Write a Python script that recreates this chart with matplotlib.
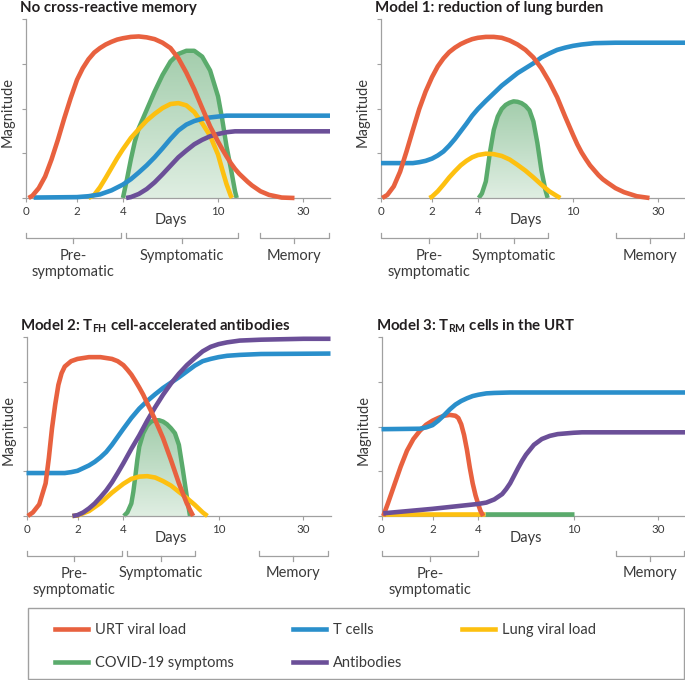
import matplotlib.pyplot as plt
import numpy as np
from matplotlib.colors import LinearSegmentedColormap
from matplotlib.transforms import blended_transform_factory
from matplotlib.patches import Rectangle
from matplotlib.lines import Line2D
from matplotlib.font_manager import FontProperties

plt.rcParams['font.family'] = ['Lato', 'DejaVu Sans']
plt.rcParams['mathtext.fontset'] = 'custom'
plt.rcParams['mathtext.rm'] = 'Lato'
plt.rcParams['mathtext.bf'] = 'Lato:bold'

URT = '#e8613f'
TCELL = '#2a8fcb'
LUNG = '#fdc010'
SYMPT = '#5aab6c'
AB = '#6b4f98'
GREY = '#a0a0a0'
TEXT = '#3a3a3a'

# day axis is stretched early on and squashed later
day_breaks = [0, 2, 4, 10, 30, 40]
pos_breaks = [0, 2, 3.8, 7.53, 10.86, 11.92]
day_ticks = [0, 2, 4, 10, 30]

# --- No cross-reactive memory
a_urt_d = [0.1, 0.25, 0.5, 0.75, 1, 1.25, 1.5, 1.75, 2, 2.25, 2.5, 2.75, 3, 3.25, 3.5, 3.75, 4, 4.5, 5, 5.5,
           6, 6.5, 7, 7.5, 8, 8.5, 9, 9.5, 10, 11, 12, 13, 14, 15, 16, 17, 18, 20, 22, 25, 28]
a_urt_v = [0, 0.05, 0.22, 0.48, 0.86, 1.30, 1.78, 2.23, 2.64, 2.90, 3.10, 3.25, 3.35, 3.43, 3.49, 3.54, 3.57, 3.60, 3.61, 3.59,
           3.55, 3.47, 3.35, 3.12, 2.80, 2.43, 2.01, 1.60, 1.26, 1.09, 0.93, 0.78, 0.65, 0.54, 0.45, 0.36, 0.28, 0.15, 0.07, 0.01, 0]
a_tc_d = [0.3, 2, 2.5, 3, 3.5, 4, 4.5, 5, 5.5, 6, 6.5, 7, 7.5, 8, 8.5, 9, 9.5, 10, 12, 15, 40]
a_tc_v = [0.01, 0.02, 0.04, 0.08, 0.17, 0.30, 0.42, 0.57, 0.73, 0.91, 1.11, 1.32, 1.51, 1.64, 1.72, 1.77, 1.80, 1.82, 1.84, 1.84, 1.84]
a_lung_d = [2.5, 2.75, 3, 3.25, 3.5, 3.75, 4, 4.5, 5, 5.5, 6, 6.5, 7, 7.5, 8, 8.5, 9, 9.5, 10, 11, 12, 13, 13.3]
a_lung_v = [0, 0.07, 0.24, 0.45, 0.67, 0.89, 1.09, 1.34, 1.54, 1.73, 1.88, 2.01, 2.10, 2.12, 2.07, 1.92, 1.67, 1.39, 0.97, 0.63, 0.31, 0.05, 0]
a_sym_d = [4.0, 4.25, 4.5, 4.75, 5, 5.5, 6, 6.5, 7, 7.5, 8, 8.5, 9, 9.5, 10, 11, 12, 13, 14, 14.4]
a_sym_v = [0, 0.41, 0.86, 1.26, 1.56, 1.97, 2.38, 2.75, 3.05, 3.22, 3.29, 3.29, 3.16, 2.85, 2.27, 1.75, 1.15, 0.67, 0.15, 0]
a_ab_d = [4.2, 4.5, 5, 5.5, 6, 6.5, 7, 7.5, 8, 8.5, 9, 9.5, 10, 11, 12, 14, 40]
a_ab_v = [0, 0.02, 0.09, 0.20, 0.35, 0.53, 0.72, 0.91, 1.06, 1.20, 1.30, 1.38, 1.43, 1.45, 1.47, 1.49, 1.49]

# --- Model 1
b_urt_d = [0.05, 0.25, 0.5, 0.75, 1, 1.25, 1.5, 1.75, 2, 2.25, 2.5, 2.75, 3, 3.25, 3.5, 3.75, 4, 4.5, 5, 5.5,
           6, 6.5, 7, 7.5, 8, 8.5, 9, 9.5, 10, 11, 12, 13, 14, 15, 16, 17, 18, 20, 22, 25, 28]
b_urt_v = [0, 0.07, 0.26, 0.59, 1.04, 1.52, 1.99, 2.38, 2.70, 2.94, 3.12, 3.26, 3.36, 3.44, 3.50, 3.55, 3.58, 3.60, 3.60, 3.58,
           3.52, 3.43, 3.31, 3.14, 2.90, 2.60, 2.25, 1.82, 1.41, 1.20, 1.02, 0.87, 0.73, 0.62, 0.51, 0.42, 0.35, 0.22, 0.13, 0.04, 0]
b_tc_d = [0, 1.25, 1.5, 1.75, 2, 2.25, 2.5, 2.75, 3, 3.25, 3.5, 3.75, 4, 4.5, 5, 5.5, 6, 6.5, 7, 7.5,
          8, 8.5, 9, 9.5, 10, 12, 15, 20, 40]
b_tc_v = [0.78, 0.78, 0.80, 0.83, 0.88, 0.95, 1.04, 1.17, 1.32, 1.49, 1.66, 1.84, 1.99, 2.17, 2.34, 2.51, 2.65, 2.79, 2.90, 3.01,
          3.14, 3.23, 3.31, 3.36, 3.40, 3.43, 3.46, 3.47, 3.47]
b_lung_d = [1.9, 2, 2.25, 2.5, 2.75, 3, 3.25, 3.5, 3.75, 4, 4.5, 5, 5.5, 6, 6.5, 7, 7.5, 8, 8.5, 9, 9.2]
b_lung_v = [0, 0.03, 0.15, 0.30, 0.46, 0.60, 0.73, 0.83, 0.91, 0.96, 0.99, 0.98, 0.94, 0.86, 0.74, 0.61, 0.46, 0.30, 0.15, 0.04, 0]
b_sym_d = [4.05, 4.25, 4.5, 4.75, 5, 5.25, 5.5, 5.75, 6, 6.25, 6.5, 6.75, 7, 7.25, 7.5, 7.75, 8, 8.25, 8.4]
b_sym_v = [0, 0.10, 0.37, 1.00, 1.52, 1.82, 1.99, 2.08, 2.13, 2.16, 2.15, 2.12, 2.06, 1.96, 1.71, 1.23, 0.63, 0.19, 0]

# --- Model 2
c_urt_d = [0.05, 0.25, 0.5, 0.75, 0.875, 1, 1.125, 1.25, 1.375, 1.5, 1.75, 2, 2.5, 3, 3.5, 3.75, 4, 4.25, 4.5, 4.75,
           5, 5.25, 5.5, 5.75, 6, 6.5, 7, 7.5, 8, 8.25, 8.4]
c_urt_v = [0, 0.08, 0.26, 0.73, 1.29, 1.96, 2.49, 2.93, 3.19, 3.34, 3.46, 3.51, 3.55, 3.55, 3.51, 3.46, 3.37, 3.27, 3.16, 3.02,
           2.87, 2.71, 2.52, 2.34, 2.15, 1.74, 1.25, 0.73, 0.28, 0.10, 0]
c_tc_d = [0, 1.5, 1.75, 2, 2.25, 2.5, 2.75, 3, 3.25, 3.5, 3.75, 4, 4.5, 5, 5.5, 6, 6.5, 7, 7.5, 8,
          8.5, 9, 9.5, 10, 12, 15, 20, 40]
c_tc_v = [0.96, 0.96, 0.98, 1.01, 1.07, 1.13, 1.21, 1.31, 1.43, 1.59, 1.77, 1.95, 2.19, 2.40, 2.57, 2.72, 2.86, 2.98, 3.10, 3.23,
          3.36, 3.46, 3.51, 3.55, 3.58, 3.60, 3.62, 3.63]
c_lung_d = [1.8, 2, 2.5, 3, 3.5, 4, 4.5, 5, 5.5, 6, 6.5, 7, 7.5, 8, 8.5, 9, 9.3]
c_lung_v = [0, 0.01, 0.11, 0.29, 0.52, 0.72, 0.83, 0.88, 0.89, 0.86, 0.78, 0.68, 0.54, 0.40, 0.25, 0.08, 0]
c_sym_d = [4.03, 4.25, 4.5, 4.625, 4.75, 4.875, 5, 5.25, 5.5, 5.75, 6, 6.25, 6.5, 6.75, 7, 7.25, 7.5, 7.75, 8, 8.2]
c_sym_v = [0, 0.08, 0.28, 0.54, 0.88, 1.25, 1.55, 1.85, 2.02, 2.11, 2.14, 2.14, 2.11, 2.05, 1.96, 1.85, 1.59, 1.03, 0.43, 0]
c_ab_d = [1.8, 2, 2.25, 2.5, 2.75, 3, 3.25, 3.5, 3.75, 4, 4.5, 5, 5.5, 6, 6.5, 7, 7.5, 8, 8.5, 9,
          9.5, 10, 12, 15, 20, 30, 40]
c_ab_v = [0, 0.02, 0.08, 0.17, 0.28, 0.42, 0.57, 0.75, 0.96, 1.18, 1.50, 1.80, 2.13, 2.43, 2.71, 2.96, 3.18, 3.37, 3.53, 3.68,
          3.78, 3.84, 3.88, 3.92, 3.94, 3.96, 3.96]

# --- Model 3
d_urt_d = [0.07, 0.25, 0.5, 0.75, 1, 1.25, 1.5, 1.75, 2, 2.25, 2.5, 2.75, 3, 3.125, 3.25, 3.375, 3.5, 3.625, 3.75, 3.875,
           4, 4.125, 4.3]
d_urt_v = [0, 0.28, 0.69, 1.10, 1.46, 1.72, 1.90, 2.04, 2.13, 2.19, 2.24, 2.26, 2.24, 2.19, 2.05, 1.81, 1.48, 1.08, 0.73, 0.46,
           0.25, 0.12, 0]
d_tc_d = [0, 1.5, 1.75, 2, 2.25, 2.5, 2.75, 3, 3.25, 3.5, 3.75, 4, 4.5, 5, 6, 40]
d_tc_v = [1.94, 1.95, 1.98, 2.03, 2.13, 2.25, 2.38, 2.49, 2.57, 2.63, 2.68, 2.71, 2.74, 2.75, 2.76, 2.76]
d_lung_d = [0, 4.4]
d_lung_v = [0.045, 0.045]
d_sym_d = [4.4, 10.05]
d_sym_v = [0.045, 0.045]
d_ab_d = [0.07, 2, 4, 4.5, 5, 5.5, 5.75, 6, 6.25, 6.5, 6.75, 7, 7.5, 8, 8.5, 9, 10, 12, 40]
d_ab_v = [0.06, 0.16, 0.27, 0.30, 0.37, 0.49, 0.60, 0.73, 0.90, 1.07, 1.23, 1.37, 1.59, 1.72, 1.79, 1.83, 1.86, 1.87, 1.87]

# brackets under each panel: (label, first day, last day)
a_phases = [('Pre-\nsymptomatic', 0, 3.9), ('Symptomatic', 4.2, 14.6), ('Memory', 19.9, 39.5)]
b_phases = [('Pre-\nsymptomatic', 0, 3.95), ('Symptomatic', 4.16, 8.4), ('Memory', 20, 39.5)]
c_phases = [('Pre-\nsymptomatic', 0, 3.95), ('Symptomatic', 4.2, 8.5), ('Memory', 19.5, 39)]
d_phases = [('Pre-\nsymptomatic', 0, 4.0), ('Memory', 20, 39.5)]

legend_names = ['URT viral load', 'COVID-19 symptoms', 'T cells', 'Antibodies', 'Lung viral load']
legend_cols = [URT, SYMPT, TCELL, AB, LUNG]


def fwd(d):
    return np.interp(d, day_breaks, pos_breaks)


def inv(p):
    return np.interp(p, pos_breaks, day_breaks)


W_PX, H_PX = 685, 680
fig = plt.figure(figsize=(W_PX / 100, H_PX / 100), dpi=100)
renderer = fig.canvas.get_renderer()


def size_for(pairs, weight='normal'):
    # font size that makes the texts about as wide (px) as in the reference
    fp = FontProperties(family='Lato', size=10, weight=weight)
    got = sum(renderer.get_text_width_height_descent(t, fp, ismath=False)[0] for t, _ in pairs)
    return 10 * sum(px for _, px in pairs) / got


TITLE_FS = size_for([('No cross-reactive memory', 182), ('Model 1: reduction of lung burden', 225)], 'bold')
LABEL_FS = size_for([('Symptomatic', 87), ('symptomatic', 81), ('Memory', 53), ('Magnitude', 70)])
LEGEND_FS = size_for([('URT viral load', 87), ('COVID-19 symptoms', 139), ('Antibodies', 72),
                      ('Lung viral load', 94)])
TICK_FS = 8.3

green_cmap = LinearSegmentedColormap.from_list('sym', ['#dfeee2', '#a3cdac'])


def panel(rect, title, lines, sym, phases):
    ax = fig.add_axes(rect)
    W = rect[2] * W_PX
    H = rect[3] * H_PX
    ax.set_xscale('function', functions=(fwd, inv))

    if sym is not None:
        sd, sv = sym
        poly = ax.fill_between(sd, sv, 0, color='none', lw=0)
        grad = np.linspace(0, 1, 256).reshape(-1, 1)
        trans = blended_transform_factory(ax.transAxes, ax.transData)
        im = ax.imshow(grad, cmap=green_cmap, aspect='auto', origin='lower',
                       extent=(0, 1, 0, max(sv)), transform=trans, zorder=1)
        im.set_clip_path(poly.get_paths()[0], ax.transData)
        ax.plot(sd, sv, color=SYMPT, lw=3.2, solid_capstyle='butt',
                solid_joinstyle='round', clip_on=False, zorder=2)

    for i, (d, v, c) in enumerate(lines):
        ax.plot(d, v, color=c, lw=3.3, solid_capstyle='butt',
                solid_joinstyle='round', clip_on=False, zorder=3 + i)

    ax.set_xticks(day_ticks)
    ax.set_xticklabels([str(t) for t in day_ticks])
    ax.set_yticks([0, 1, 2, 3, 4])
    ax.set_yticklabels([])
    ax.tick_params(axis='both', direction='out', length=3, width=0.8,
                   color=GREY, labelcolor=TEXT, labelsize=TICK_FS, pad=2.5)
    for s in ['top', 'right']:
        ax.spines[s].set_visible(False)
    for s in ['left', 'bottom']:
        ax.spines[s].set_color(GREY)
        ax.spines[s].set_linewidth(0.9)

    ax.text(-6 / W, 1 + 7 / H, title, transform=ax.transAxes, fontsize=TITLE_FS,
            fontweight='bold', color='#231f20', ha='left', va='baseline')
    ax.text(-18 / W, 0.48, 'Magnitude', transform=ax.transAxes, rotation=90,
            fontsize=LABEL_FS, color=TEXT, ha='center', va='center')

    trans = blended_transform_factory(ax.transData, ax.transAxes)
    ax.text(7, -22 / H, 'Days', transform=trans, fontsize=LABEL_FS, color=TEXT,
            ha='center', va='center')

    yb, ye, ym = -40 / H, -35 / H, -45 / H
    for label, d0, d1 in phases:
        ax.plot([d0, d0, d1, d1], [ye, yb, yb, ye], color=GREY, lw=0.9,
                transform=trans, clip_on=False)
        dm = inv((fwd(d0) + fwd(d1)) / 2)
        ax.plot([dm, dm], [yb, ym], color=GREY, lw=0.9, transform=trans, clip_on=False)
        for k, part in enumerate(label.split('\n')):
            ax.text(dm, -(56 + 16.5 * k) / H, part, transform=trans, fontsize=LABEL_FS,
                    color=TEXT, ha='center', va='center_baseline')
    ax.set_xlim(0, 40)
    ax.set_ylim(0, 4)
    return ax


aw, ah = 304 / W_PX, 179 / H_PX
panel([26 / W_PX, 1 - 198 / H_PX, aw, ah], 'No cross-reactive memory',
      [(a_lung_d, a_lung_v, LUNG), (a_ab_d, a_ab_v, AB), (a_tc_d, a_tc_v, TCELL),
       (a_urt_d, a_urt_v, URT)],
      (a_sym_d, a_sym_v), a_phases)
panel([381 / W_PX, 1 - 198 / H_PX, aw, ah], 'Model 1: reduction of lung burden',
      [(b_lung_d, b_lung_v, LUNG), (b_tc_d, b_tc_v, TCELL), (b_urt_d, b_urt_v, URT)],
      (b_sym_d, b_sym_v), b_phases)
panel([26.5 / W_PX, 1 - 516 / H_PX, aw, ah], r'Model 2: T$_{\mathbf{FH}}$ cell-accelerated antibodies',
      [(c_lung_d, c_lung_v, LUNG), (c_tc_d, c_tc_v, TCELL), (c_ab_d, c_ab_v, AB),
       (c_urt_d, c_urt_v, URT)],
      (c_sym_d, c_sym_v), c_phases)
panel([381.5 / W_PX, 1 - 516 / H_PX, aw, ah], r'Model 3: T$_{\mathbf{RM}}$ cells in the URT',
      [(d_sym_d, d_sym_v, SYMPT), (d_lung_d, d_lung_v, LUNG), (d_urt_d, d_urt_v, URT),
       (d_ab_d, d_ab_v, AB), (d_tc_d, d_tc_v, TCELL)],
      None, d_phases)

# legend box and entries
fig.add_artist(Rectangle((28 / W_PX, 1 / H_PX), 656 / W_PX, 71 / H_PX,
                         transform=fig.transFigure, fill=False, ec=GREY, lw=1))
fs_px = LEGEND_FS * 100 / 72
handles = [Line2D([], [], color=c, lw=3.3) for c in legend_cols]
fig.legend(handles, legend_names, ncol=3, loc='upper left',
           bbox_to_anchor=(55 / W_PX, 1 - 623 / H_PX), frameon=False,
           fontsize=LEGEND_FS, handlelength=33 / fs_px, handletextpad=6.6 / fs_px,
           columnspacing=60 / fs_px, labelspacing=(34 - 0.99 * fs_px) / fs_px,
           borderpad=0, borderaxespad=0, labelcolor=TEXT)

fig.savefig('out.png', dpi=100)
